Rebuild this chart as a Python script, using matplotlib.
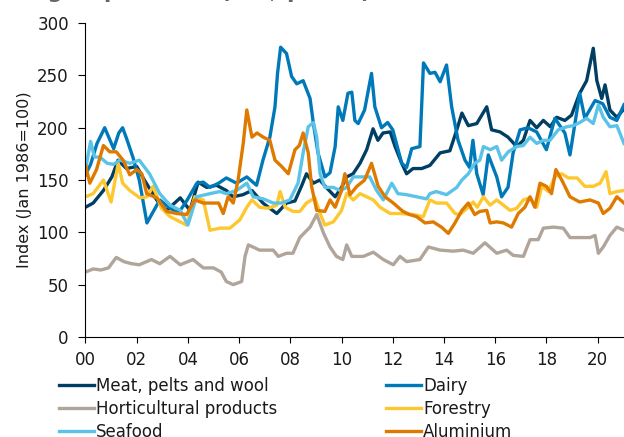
import matplotlib
matplotlib.use('Agg')
import matplotlib.pyplot as plt

# values (index, Jan 1986 = 100)
meat_x = [2000.0, 2000.3, 2000.7, 2001.03, 2001.27, 2001.6, 2002.0, 2002.3, 2002.78, 2003.17, 2003.7, 2004.08, 2004.4, 2004.73, 2005.12, 2005.5, 2005.76, 2006.15, 2006.5, 2006.93, 2007.47, 2007.85, 2008.18, 2008.45, 2008.63, 2008.9, 2009.15, 2009.4, 2009.75, 2010.0, 2010.2, 2010.45, 2010.72, 2010.98, 2011.23, 2011.42, 2011.62, 2011.9, 2012.09, 2012.35, 2012.54, 2012.79, 2013.13, 2013.45, 2013.85, 2014.23, 2014.5, 2014.7, 2014.95, 2015.28, 2015.67, 2015.86, 2016.19, 2016.5, 2016.84, 2017.1, 2017.36, 2017.62, 2017.88, 2018.15, 2018.4, 2018.72, 2018.98, 2019.3, 2019.57, 2019.83, 2019.97, 2020.16, 2020.29, 2020.48, 2020.75, 2021.03]
meat = [124, 128, 140, 153, 169, 161, 163, 150, 131, 121, 133, 121, 148, 143, 145, 140, 134, 136, 140, 128, 118, 128, 130, 145, 156, 147, 150, 143, 134, 143, 153, 156, 166, 179, 199, 188, 195, 196, 182, 166, 156, 161, 161, 164, 176, 178, 198, 214, 202, 204, 220, 198, 196, 191, 182, 188, 207, 200, 207, 201, 210, 207, 212, 233, 245, 276, 245, 228, 241, 217, 210, 218]

dairy_x = [2000.0, 2000.2, 2000.45, 2000.75, 2001.1, 2001.3, 2001.45, 2001.6, 2001.85, 2002.1, 2002.4, 2002.65, 2002.9, 2003.2, 2003.5, 2003.7, 2003.95, 2004.35, 2004.6, 2004.86, 2005.2, 2005.5, 2005.9, 2006.3, 2006.68, 2006.93, 2007.2, 2007.4, 2007.5, 2007.62, 2007.85, 2008.05, 2008.25, 2008.5, 2008.77, 2008.9, 2009.08, 2009.35, 2009.55, 2009.75, 2009.87, 2010.05, 2010.25, 2010.4, 2010.52, 2010.65, 2010.9, 2011.17, 2011.3, 2011.56, 2011.8, 2012.0, 2012.35, 2012.54, 2012.74, 2013.06, 2013.2, 2013.45, 2013.65, 2013.85, 2014.1, 2014.3, 2014.55, 2014.82, 2015.0, 2015.13, 2015.28, 2015.53, 2015.73, 2016.06, 2016.25, 2016.5, 2016.7, 2016.97, 2017.28, 2017.62, 2018.0, 2018.33, 2018.72, 2018.92, 2019.3, 2019.5, 2019.9, 2020.2, 2020.48, 2020.75, 2021.03]
dairy = [155, 165, 185, 200, 180, 195, 200, 190, 172, 150, 109, 120, 131, 125, 120, 121, 130, 147, 148, 143, 147, 152, 147, 153, 145, 169, 191, 220, 252, 277, 271, 249, 242, 245, 228, 204, 176, 153, 157, 182, 220, 207, 233, 234, 207, 204, 217, 252, 220, 200, 205, 198, 166, 162, 180, 182, 262, 252, 253, 244, 260, 220, 188, 169, 162, 188, 156, 136, 174, 153, 134, 143, 176, 198, 200, 196, 179, 209, 195, 174, 233, 209, 226, 223, 210, 207, 222]

hort_x = [2000.0, 2000.3, 2000.6, 2000.9, 2001.2, 2001.5, 2001.8, 2002.1, 2002.58, 2002.9, 2003.3, 2003.7, 2004.2, 2004.6, 2005.0, 2005.3, 2005.5, 2005.77, 2006.1, 2006.23, 2006.36, 2006.8, 2007.33, 2007.53, 2007.85, 2008.1, 2008.37, 2008.77, 2009.03, 2009.3, 2009.55, 2009.8, 2010.05, 2010.2, 2010.4, 2010.85, 2011.24, 2011.63, 2012.02, 2012.28, 2012.54, 2013.06, 2013.39, 2013.85, 2014.36, 2014.75, 2015.14, 2015.6, 2016.06, 2016.45, 2016.7, 2017.1, 2017.36, 2017.68, 2017.88, 2018.27, 2018.66, 2018.92, 2019.3, 2019.7, 2019.9, 2020.03, 2020.22, 2020.48, 2020.75, 2021.03]
hort = [62, 65, 64, 66, 76, 72, 70, 69, 74, 70, 77, 69, 74, 66, 66, 62, 53, 50, 53, 77, 88, 83, 83, 77, 80, 80, 95, 105, 117, 99, 86, 77, 74, 88, 77, 77, 81, 74, 69, 77, 72, 74, 86, 83, 82, 83, 80, 90, 80, 83, 78, 77, 93, 93, 104, 105, 104, 95, 95, 95, 97, 80, 86, 97, 105, 102]

forestry_x = [2000.0, 2000.3, 2000.7, 2001.0, 2001.28, 2001.45, 2001.73, 2002.12, 2002.4, 2002.64, 2002.97, 2003.3, 2003.7, 2003.95, 2004.27, 2004.6, 2004.86, 2005.25, 2005.64, 2006.03, 2006.3, 2006.5, 2006.8, 2007.14, 2007.47, 2007.6, 2007.8, 2008.1, 2008.37, 2008.63, 2008.96, 2009.16, 2009.35, 2009.68, 2010.0, 2010.2, 2010.46, 2010.72, 2010.98, 2011.24, 2011.5, 2011.9, 2012.28, 2012.8, 2013.19, 2013.45, 2013.7, 2014.1, 2014.43, 2014.62, 2014.95, 2015.14, 2015.3, 2015.54, 2015.8, 2016.06, 2016.32, 2016.58, 2016.84, 2017.1, 2017.36, 2017.62, 2017.82, 2018.08, 2018.33, 2018.6, 2018.86, 2019.2, 2019.5, 2019.83, 2020.1, 2020.33, 2020.48, 2020.75, 2021.03]
forestry = [134, 137, 150, 129, 166, 147, 140, 133, 134, 144, 123, 115, 110, 107, 134, 131, 102, 104, 104, 112, 124, 131, 124, 123, 126, 139, 124, 120, 120, 128, 133, 118, 107, 110, 121, 137, 131, 137, 134, 131, 124, 118, 118, 117, 115, 131, 128, 128, 118, 117, 124, 129, 124, 134, 126, 131, 126, 121, 123, 131, 133, 124, 144, 139, 153, 156, 152, 152, 144, 144, 147, 158, 137, 139, 140]

seafood_x = [2000.0, 2000.2, 2000.35, 2000.56, 2000.85, 2001.1, 2001.34, 2001.73, 2002.1, 2002.5, 2002.9, 2003.3, 2003.7, 2004.0, 2004.34, 2004.86, 2005.25, 2005.5, 2005.9, 2006.3, 2006.55, 2006.94, 2007.33, 2007.66, 2007.98, 2008.3, 2008.5, 2008.7, 2008.9, 2009.03, 2009.16, 2009.35, 2009.68, 2009.94, 2010.2, 2010.46, 2010.72, 2011.1, 2011.37, 2011.63, 2011.96, 2012.2, 2012.54, 2012.93, 2013.32, 2013.45, 2013.7, 2014.1, 2014.5, 2014.7, 2014.95, 2015.2, 2015.4, 2015.54, 2015.8, 2016.06, 2016.25, 2016.51, 2016.84, 2017.1, 2017.36, 2017.62, 2017.88, 2018.14, 2018.46, 2018.8, 2019.05, 2019.3, 2019.57, 2019.83, 2020.03, 2020.22, 2020.48, 2020.75, 2021.03]
seafood = [160, 187, 172, 172, 166, 165, 169, 166, 169, 156, 137, 126, 121, 107, 134, 137, 139, 137, 140, 147, 134, 132, 128, 128, 131, 147, 176, 201, 205, 191, 156, 143, 143, 140, 143, 153, 153, 153, 140, 131, 147, 137, 136, 134, 132, 137, 139, 136, 143, 150, 156, 166, 169, 182, 179, 182, 169, 177, 182, 183, 191, 185, 188, 188, 198, 201, 202, 205, 209, 204, 222, 210, 201, 202, 185]

alu_x = [2000.0, 2000.17, 2000.43, 2000.7, 2000.95, 2001.2, 2001.47, 2001.73, 2002.0, 2002.2, 2002.39, 2002.78, 2003.17, 2003.56, 2003.95, 2004.27, 2004.6, 2004.99, 2005.2, 2005.38, 2005.57, 2005.77, 2005.96, 2006.16, 2006.3, 2006.5, 2006.7, 2006.94, 2007.2, 2007.4, 2007.66, 2007.92, 2008.18, 2008.35, 2008.5, 2008.7, 2008.83, 2009.03, 2009.35, 2009.55, 2009.75, 2010.0, 2010.13, 2010.33, 2010.6, 2010.9, 2011.17, 2011.43, 2011.7, 2012.02, 2012.4, 2012.66, 2012.93, 2013.26, 2013.58, 2013.9, 2014.17, 2014.43, 2014.7, 2014.95, 2015.2, 2015.4, 2015.67, 2015.8, 2016.06, 2016.32, 2016.64, 2016.9, 2017.16, 2017.36, 2017.55, 2017.75, 2018.0, 2018.2, 2018.37, 2018.6, 2018.92, 2019.3, 2019.7, 2020.03, 2020.22, 2020.48, 2020.75, 2021.03]
alu = [164, 147, 160, 183, 177, 177, 169, 155, 160, 156, 137, 133, 120, 118, 117, 131, 128, 128, 128, 118, 134, 128, 150, 185, 217, 191, 195, 191, 188, 169, 163, 156, 179, 183, 195, 176, 144, 121, 120, 131, 124, 140, 156, 136, 144, 150, 166, 144, 134, 128, 120, 117, 115, 109, 110, 105, 99, 109, 121, 128, 117, 120, 121, 109, 110, 109, 105, 118, 124, 134, 124, 147, 144, 137, 160, 150, 134, 129, 131, 128, 118, 123, 134, 128]

x_ticks = list(range(2000, 2021, 2))
x_ticklabels = ['%02d' % (y % 100) for y in x_ticks]
y_ticks = [0, 50, 100, 150, 200, 250, 300]

fig = plt.figure(figsize=(6.24, 4.37), dpi=100)
ax = fig.add_axes([0.137, 0.229, 0.863, 0.718])

lw = 2.4
l_meat, = ax.plot(meat_x, meat, color='#003f63', lw=lw)
l_dairy, = ax.plot(dairy_x, dairy, color='#0079b8', lw=lw)
l_hort, = ax.plot(hort_x, hort, color='#b0a59a', lw=lw)
l_forest, = ax.plot(forestry_x, forestry, color='#fdc82f', lw=lw)
l_sea, = ax.plot(seafood_x, seafood, color='#5bc3e8', lw=lw)
l_alu, = ax.plot(alu_x, alu, color='#df7a00', lw=lw)

ax.set_xlim(2000, 2021.03)
ax.set_ylim(0, 300)
ax.set_xticks(x_ticks)
ax.set_xticklabels(x_ticklabels)
ax.set_yticks(y_ticks)
ax.tick_params(axis='both', labelsize=12, colors='black', labelcolor='#1a1a1a')
ax.tick_params(axis='y', length=5, pad=7)
ax.tick_params(axis='x', length=4, pad=6)
for s in ['top', 'right']:
    ax.spines[s].set_visible(False)
ax.set_ylabel('Index (Jan 1986=100)', fontsize=11.5, color='#1a1a1a', labelpad=4)

# title sits mostly above the top edge, as in the source
fig.text(-0.013, 1.005, 'Sub-group indices (NZ$ prices)', fontsize=15.6,
         fontweight='bold', color='#666666', va='baseline', ha='left')

handles = [l_meat, l_hort, l_sea, l_dairy, l_forest, l_alu]
labels = ['Meat, pelts and wool', 'Horticultural products', 'Seafood',
          'Dairy', 'Forestry', 'Aluminium']
fig.legend(handles, labels, ncol=2, loc='upper left',
           bbox_to_anchor=(0.094, 0.138), frameon=False, fontsize=12,
           handlelength=2.1, handletextpad=0.15, columnspacing=6.5,
           labelspacing=0.3, borderpad=0, borderaxespad=0, labelcolor='#1a1a1a')

fig.savefig('out.png', dpi=100)
